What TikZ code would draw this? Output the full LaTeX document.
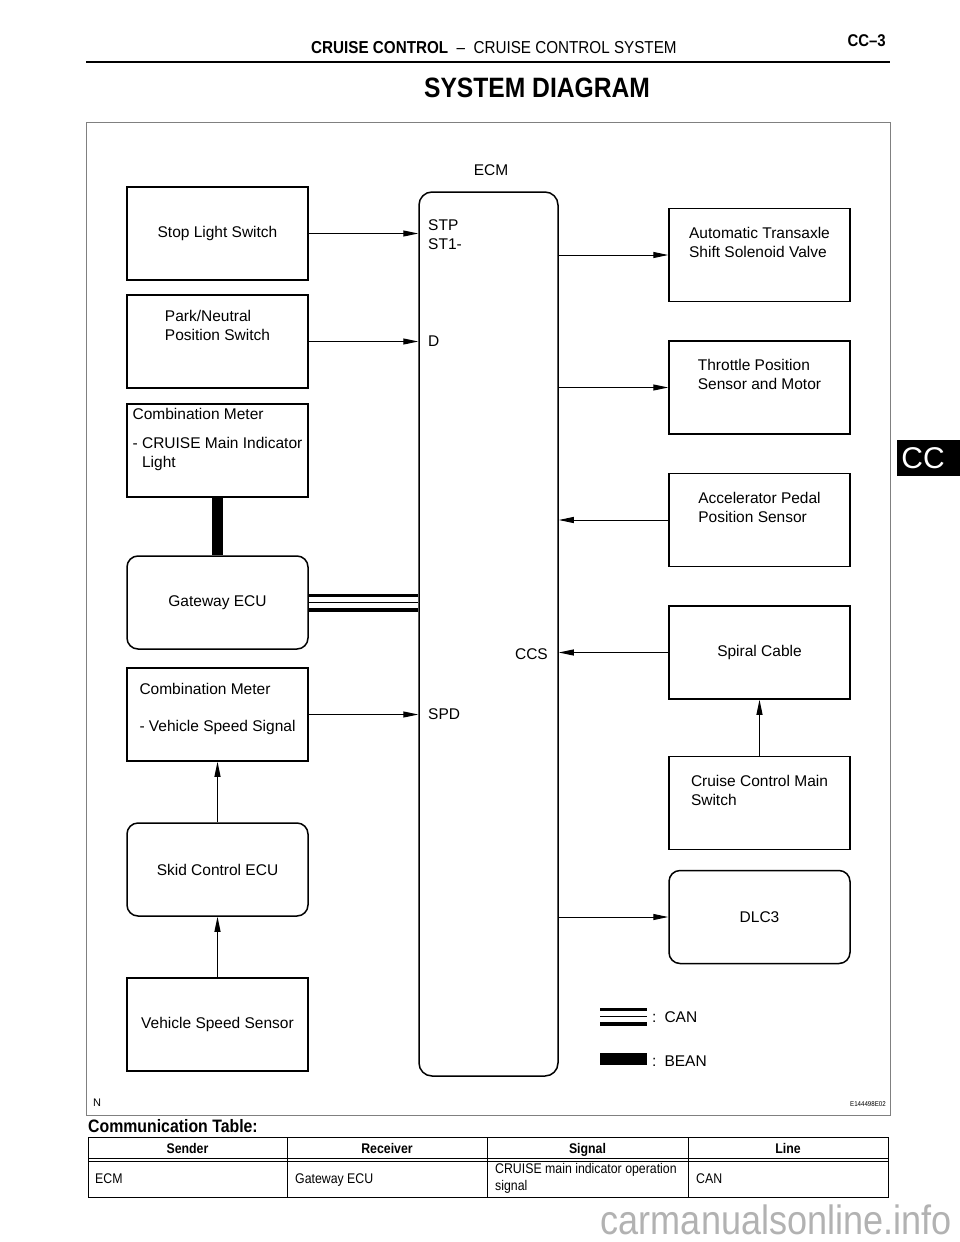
\documentclass[tikz,border=0pt]{standalone}
\usepackage{fontspec}
\setmainfont{Liberation Sans}
\newfontfamily\narrow[FakeStretch=0.88]{Liberation Sans}
\usetikzlibrary{arrows.meta}
\begin{document}
\begin{tikzpicture}[x=1pt,y=-1pt,
	every node/.style={inner sep=0pt,font=\fontsize{15.5}{19}\selectfont},
	box/.style={draw,line width=1.5pt,minimum width=181pt,minimum height=93pt,align=left},
	rbox/.style={box,rounded corners=11pt},
	up/.style={text depth=#1},
	arr/.style={line width=1pt,-{Triangle[length=15pt,width=6pt]}},
	can/.style={line width=18pt,postaction={draw=white,line width=11pt},postaction={draw=black,line width=1.3pt}},
	bean/.style={line width=11pt},
	tab/.style={font=\narrow\fontsize{14}{17}\selectfont},
	tabhead/.style={font=\narrow\bfseries\fontsize{14}{17}\selectfont}]
\useasboundingbox (0,0) rectangle (960,1242);
\node[anchor=west,font=\narrow\fontsize{17.3}{19}\selectfont] (hdr) at (311,48) {\textbf{CRUISE CONTROL}\ \ –\ \ CRUISE CONTROL SYSTEM};
\node[anchor=east,font=\narrow\bfseries\fontsize{17}{19}\selectfont] (page) at (886,41) {CC–3};
\draw[line width=2pt] (86,62) -- (890,62);
\node[font=\narrow\bfseries\fontsize{28}{30}\selectfont] (title) at (537,88) {SYSTEM DIAGRAM};
\draw[gray,line width=1pt] (86,122) rectangle (890,1115);
\fill (897,440) rectangle (960,476);
\node[text=white,font=\fontsize{30}{30}\selectfont] (cc) at (923,458) {CC};

\node[rbox,minimum width=139pt,minimum height=884pt,rounded corners=13pt] (ecm) at (488.5,634) {};
\node (ecmname) at (491,170) {ECM};
\node[anchor=west] (stp) at (428,225) {STP};
\node[anchor=west] (st1) at (428,244) {ST1-};
\node[anchor=west] (d) at (428,341) {D};
\node[anchor=west] (spd) at (428,714) {SPD};
\node[anchor=east] (ccs) at (548,654) {CCS};

\node[box] (sls) at (217.5,233.5) {Stop Light Switch};
\node[box,up=32pt] (pnp) at (217.5,341.5) {Park/Neutral\\Position Switch};
\node[box,up=26pt] (cmi) at (217.5,450.5) {Combination Meter\\[10pt]- CRUISE Main Indicator\\\phantom{- }Light};
\node[rbox] (gw) at (217.5,602.5) {Gateway ECU};
\node[box,up=15pt] (cmv) at (217.5,714.5) {Combination Meter\\[18pt]- Vehicle Speed Signal};
\node[rbox] (skid) at (217.5,869.5) {Skid Control ECU};
\node[box] (vss) at (217.5,1024.5) {Vehicle Speed Sensor};

\node[box,up=26pt] (ats) at (759.5,255) {Automatic Transaxle\\Shift Solenoid Valve};
\node[box,up=26pt] (tps) at (759.5,387.5) {Throttle Position\\Sensor and Motor};
\node[box,up=26pt] (apps) at (759.5,520) {Accelerator Pedal\\Position Sensor};
\node[box] (spiral) at (759.5,652.5) {Spiral Cable};
\node[box,up=26pt] (ccms) at (759.5,803) {Cruise Control Main\\Switch};
\node[rbox] (dlc) at (759.5,917) {DLC3};

\draw[arr] (sls.east) -- (sls.east -| ecm.west);
\draw[arr] (pnp.east) -- (pnp.east -| ecm.west);
\draw[arr] (cmv.east) -- (cmv.east -| ecm.west);
\draw[arr] (skid.north) -- (cmv.south);
\draw[arr] (vss.north) -- (skid.south);
\draw[can] (gw.east) -- (gw.east -| ecm.west);
\draw[bean] (cmi.south) -- (gw.north);
\draw[arr] (ecm.east |- ats) -- (ats.west);
\draw[arr] (ecm.east |- tps) -- (tps.west);
\draw[arr] (apps.west) -- (apps.west -| ecm.east);
\draw[arr] (spiral.west) -- (spiral.west -| ecm.east);
\draw[arr] (ccms.north) -- (spiral.south);
\draw[arr] (ecm.east |- dlc) -- (dlc.west);

\coordinate (canl) at (600,1016.5);
\coordinate (canr) at (647,1016.5);
\draw[can] (canl) -- (canr);
\node[anchor=west] (canname) at (652,1017) {:\hspace{8pt}CAN};
\coordinate (beanl) at (600,1059);
\coordinate (beanr) at (647,1059);
\draw[bean,line width=12pt] (beanl) -- (beanr);
\node[anchor=west] (beanname) at (652,1061) {:\hspace{8pt}BEAN};

\node[anchor=west,font=\fontsize{11}{13}\selectfont] (nmark) at (93,1103) {N};
\node[anchor=east,font=\narrow\fontsize{7}{8}\selectfont] (fig) at (886,1104) {E144498E02};

\node[anchor=west,font=\narrow\bfseries\fontsize{18}{20}\selectfont] (ctitle) at (88,1126) {Communication Table:};
\draw[line width=0.8pt] (88,1137) rectangle (888,1197);
\draw[line width=0.8pt] (88,1158) -- (888,1158) (88,1161) -- (888,1161);
\draw[line width=0.8pt] (287,1137) -- (287,1197) (487,1137) -- (487,1197) (688,1137) -- (688,1197);
\node[tabhead,anchor=base] (hsender) at (187.5,1153) {Sender};
\node[tabhead,anchor=base] (hreceiver) at (387,1153) {Receiver};
\node[tabhead,anchor=base] (hsignal) at (587.5,1153) {Signal};
\node[tabhead,anchor=base] (hline) at (788,1153) {Line};
\node[tab,anchor=base west] (sender) at (95,1183) {ECM};
\node[tab,anchor=base west] (receiver) at (295,1183) {Gateway ECU};
\node[tab,anchor=west,align=left] (signal) at (495,1178) {CRUISE main indicator operation\\signal};
\node[tab,anchor=base west] (line) at (696,1183) {CAN};

\node[anchor=base east,text=gray!60,font=\narrow\fontsize{41}{43}\selectfont] (wm) at (952,1234) {carmanualsonline.info};
\end{tikzpicture}
\end{document}
